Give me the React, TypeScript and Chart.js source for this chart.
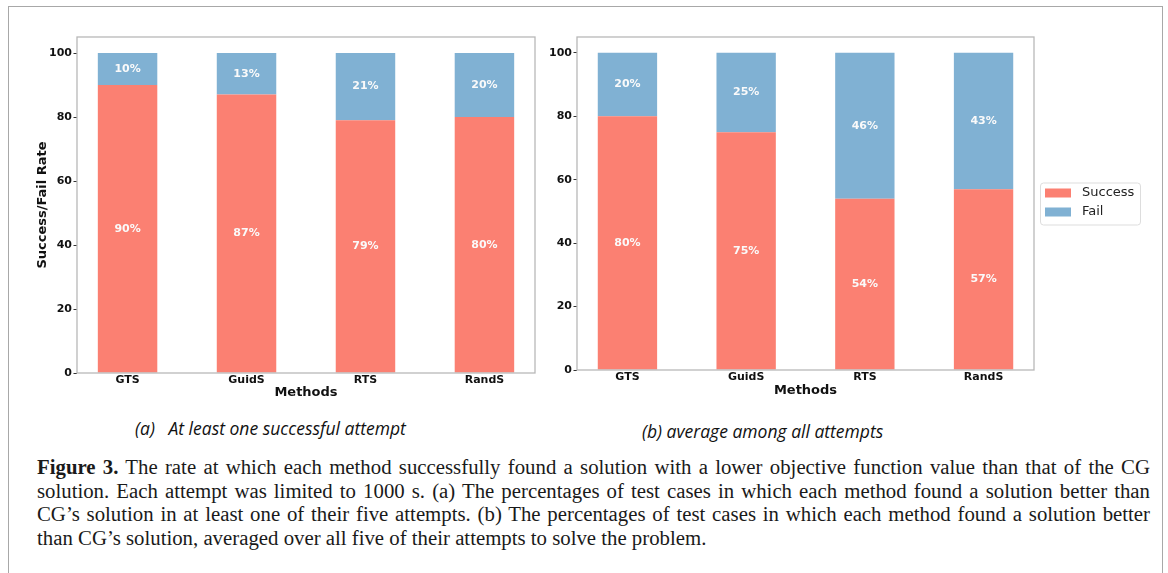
import React, { useEffect, useRef } from "react";
import { Chart, registerables } from "chart.js";

Chart.register(...registerables);

// ---- data ----
const methods = ["GTS", "GuidS", "RTS", "RandS"];
const seriesNames = ["Success", "Fail"];
const successAtLeastOne = [90, 87, 79, 80];
const failAtLeastOne = [10, 13, 21, 20];
const successAverage = [80, 75, 54, 57];
const failAverage = [20, 25, 46, 43];
const yTickValues = [0, 20, 40, 60, 80, 100];

const SUCCESS_COLOR = "#FB8072";
const FAIL_COLOR = "#80B1D3";
const SANS = '"DejaVu Sans", sans-serif';

// grey box around the plotting area
const framePlugin = {
  id: "frame",
  afterDraw(chart: any) {
    const { ctx, chartArea: a } = chart;
    ctx.save();
    ctx.strokeStyle = "#b8b8b8";
    ctx.lineWidth = 1.3;
    ctx.strokeRect(a.left, a.top, a.right - a.left, a.bottom - a.top);
    ctx.restore();
  },
};

// white percentage text in the middle of each bar segment
const valueLabelPlugin = {
  id: "valueLabels",
  afterDatasetsDraw(chart: any) {
    const { ctx } = chart;
    ctx.save();
    ctx.font = `bold 11px ${SANS}`;
    ctx.fillStyle = "#fafafa";
    ctx.textAlign = "center";
    ctx.textBaseline = "middle";
    chart.data.datasets.forEach((ds: any, di: number) => {
      const meta = chart.getDatasetMeta(di);
      meta.data.forEach((bar: any, i: number) => {
        const { x, y, base } = bar.getProps(["x", "y", "base"], true);
        ctx.fillText(`${ds.data[i].y}%`, x, (y + base) / 2);
      });
    });
    ctx.restore();
  },
};

// framed legend placed to the right of the plotting area
const sideLegendPlugin = {
  id: "sideLegend",
  afterDraw(chart: any) {
    const { ctx, chartArea: a } = chart;
    const left = a.right + 6;
    const w = 100;
    const h = 42;
    const top = (a.top + a.bottom) / 2 - h / 2;
    ctx.save();
    ctx.fillStyle = "rgba(255,255,255,0.8)";
    ctx.strokeStyle = "#dddddd";
    ctx.lineWidth = 1;
    ctx.beginPath();
    ctx.roundRect(left + 0.5, top + 0.5, w, h, 3);
    ctx.fill();
    ctx.stroke();
    ctx.font = `13px ${SANS}`;
    ctx.textBaseline = "middle";
    ctx.textAlign = "left";
    chart.data.datasets.forEach((ds: any, i: number) => {
      const cy = top + 10.5 + i * 19;
      ctx.fillStyle = ds.backgroundColor;
      ctx.fillRect(left + 5, cy - 4.5, 26, 9);
      ctx.fillStyle = "#222";
      ctx.fillText(ds.label, left + 42, cy);
    });
    ctx.restore();
  },
};

function buildConfig(
  success: number[],
  fail: number[],
  padding: any,
  yWidth: number,
  xHeight: number,
  xTitlePad: number,
  yTitle: string | null,
  withLegend: boolean
): any {
  const tickFont = { family: SANS, size: 11, weight: "bold" as const };
  const titleFont = { family: SANS, size: 13, weight: "bold" as const };
  return {
    type: "bar",
    data: {
      datasets: [
        {
          label: seriesNames[0],
          data: success.map((v, i) => ({ x: i, y: v })),
          backgroundColor: SUCCESS_COLOR,
          barPercentage: 0.5,
          categoryPercentage: 1,
          borderWidth: 0,
        },
        {
          label: seriesNames[1],
          data: fail.map((v, i) => ({ x: i, y: v })),
          backgroundColor: FAIL_COLOR,
          barPercentage: 0.5,
          categoryPercentage: 1,
          borderWidth: 0,
        },
      ],
    },
    options: {
      animation: false,
      responsive: false,
      maintainAspectRatio: false,
      devicePixelRatio: 1,
      layout: { padding },
      plugins: {
        legend: { display: false },
        tooltip: { enabled: false },
      },
      scales: {
        x: {
          type: "linear",
          stacked: true,
          offset: false,
          min: -0.425,
          max: 3.425,
          afterBuildTicks: (s: any) => {
            s.ticks = methods.map((_, i) => ({ value: i }));
          },
          afterFit: (s: any) => {
            s.height = xHeight;
          },
          ticks: {
            callback: (v: any) => methods[v] ?? "",
            font: tickFont,
            color: "#111",
            padding: 1,
            maxRotation: 0,
            autoSkip: false,
          },
          grid: { display: false, drawTicks: false, tickLength: 0, offset: false },
          border: { display: false },
          title: {
            display: true,
            text: "Methods",
            font: titleFont,
            color: "#111",
            padding: { top: 0, bottom: xTitlePad },
          },
        },
        y: {
          type: "linear",
          stacked: true,
          min: 0,
          max: 105,
          afterBuildTicks: (s: any) => {
            s.ticks = yTickValues.map((v) => ({ value: v }));
          },
          afterFit: (s: any) => {
            s.width = yWidth;
          },
          ticks: {
            font: tickFont,
            color: "#111",
            padding: 1.5,
          },
          grid: {
            drawOnChartArea: false,
            drawTicks: true,
            tickLength: 3.5,
            color: "#333",
          },
          border: { display: false },
          title: {
            display: !!yTitle,
            text: yTitle ?? "",
            font: titleFont,
            color: "#111",
            padding: { top: 35, bottom: 0 },
          },
        },
      },
    },
    plugins: withLegend
      ? [framePlugin, valueLabelPlugin, sideLegendPlugin]
      : [framePlugin, valueLabelPlugin],
  };
}

function BarPanel(props: {
  left: number;
  width: number;
  height: number;
  success: number[];
  fail: number[];
  padding: any;
  yWidth: number;
  xHeight: number;
  xTitlePad: number;
  yTitle: string | null;
  withLegend: boolean;
}) {
  const ref = useRef<HTMLCanvasElement | null>(null);
  useEffect(() => {
    if (!ref.current) return;
    const chart = new Chart(
      ref.current,
      buildConfig(
        props.success,
        props.fail,
        props.padding,
        props.yWidth,
        props.xHeight,
        props.xTitlePad,
        props.yTitle,
        props.withLegend
      )
    );
    return () => chart.destroy();
  }, []);
  return (
    <canvas
      ref={ref}
      width={props.width}
      height={props.height}
      style={{
        position: "absolute",
        left: props.left,
        top: 0,
        width: props.width,
        height: props.height,
        display: "block",
      }}
    />
  );
}

const captionLine: React.CSSProperties = {
  height: 23.7,
  lineHeight: "23.7px",
  textAlign: "justify",
  textAlignLast: "justify" as any,
  whiteSpace: "nowrap",
};

const subCaption: React.CSSProperties = {
  position: "absolute",
  fontFamily: '"Open Sans", sans-serif',
  fontStyle: "italic",
  fontSize: 17.5,
  lineHeight: "22px",
  whiteSpace: "pre",
  color: "#111",
};

export default function App() {
  return (
    <div
      style={{
        position: "absolute",
        left: 0,
        top: 0,
        width: 1168,
        height: 573,
        overflow: "hidden",
        background: "#fff",
      }}
    >
      <div
        style={{
          position: "absolute",
          left: 8,
          top: 6,
          width: 1155,
          height: 700,
          border: "1px solid #a8a8a8",
          boxSizing: "border-box",
        }}
      />
      <BarPanel
        left={0}
        width={545}
        height={400}
        success={successAtLeastOne}
        fail={failAtLeastOne}
        padding={{ left: 0, right: 10, top: 37, bottom: 0 }}
        yWidth={77}
        xHeight={27}
        xTitlePad={0}
        yTitle="Success/Fail Rate"
        withLegend={false}
      />
      <BarPanel
        left={545}
        width={623}
        height={400}
        success={successAverage}
        fail={failAverage}
        padding={{ left: 0, right: 134, top: 37, bottom: 0 }}
        yWidth={32}
        xHeight={30}
        xTitlePad={2}
        yTitle={null}
        withLegend={true}
      />
      <div style={{ ...subCaption, left: 135, top: 417 }}>
        {"(a)   At least one successful attempt"}
      </div>
      <div style={{ ...subCaption, left: 642, top: 420 }}>
        {"(b) average among all attempts"}
      </div>
      <div
        style={{
          position: "absolute",
          left: 37,
          top: 455,
          width: 1113,
          fontFamily: '"Liberation Serif", serif',
          fontSize: 20.8,
          color: "#1a1a1a",
        }}
      >
        <div style={captionLine}>
          <b>Figure 3.</b> The rate at which each method successfully found a
          solution with a lower objective function value than that of the CG
        </div>
        <div style={captionLine}>
          solution. Each attempt was limited to 1000 s. (a) The percentages of
          test cases in which each method found a solution better than
        </div>
        <div style={captionLine}>
          CG’s solution in at least one of their five attempts. (b) The
          percentages of test cases in which each method found a solution better
        </div>
        <div style={{ height: 23.7, lineHeight: "23.7px", whiteSpace: "nowrap" }}>
          than CG’s solution, averaged over all five of their attempts to solve
          the problem.
        </div>
      </div>
    </div>
  );
}
